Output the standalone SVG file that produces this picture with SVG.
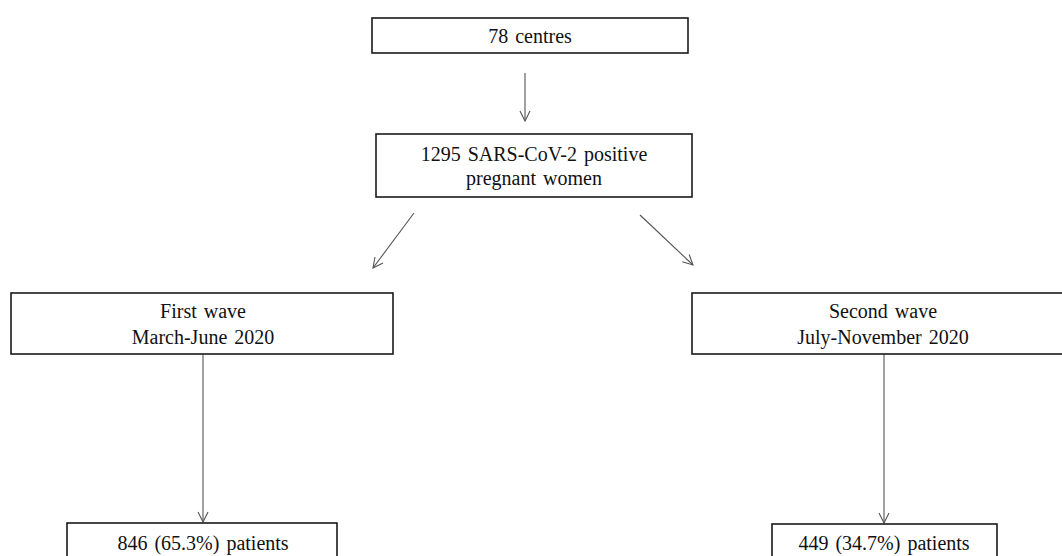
<svg xmlns="http://www.w3.org/2000/svg" width="1062" height="556" viewBox="0 0 1062 556">
<style>
.box{fill:#fff;stroke:#1a1a1a;stroke-width:1.6}
.t{font-family:"Liberation Serif","Times New Roman",serif;font-size:20px;fill:#111;text-anchor:middle;word-spacing:2px}
.c{stroke:#555;stroke-width:1.1;fill:none}
</style>
<defs>
<marker id="ah" viewBox="0 0 12 12" refX="11" refY="6" markerWidth="12" markerHeight="12" markerUnits="userSpaceOnUse" orient="auto">
<path d="M1,1 L11,6 L1,11" fill="none" stroke="#555" stroke-width="1.1"/>
</marker>
</defs>
<rect width="1062" height="556" fill="#fff"/>
<g id="connectors">
<line class="c" x1="525" y1="73" x2="525" y2="121" marker-end="url(#ah)"/>
<line class="c" x1="414" y1="213" x2="373" y2="268" marker-end="url(#ah)"/>
<line class="c" x1="640" y1="215" x2="693" y2="265" marker-end="url(#ah)"/>
<line class="c" x1="203" y1="354" x2="203" y2="522" marker-end="url(#ah)"/>
<line class="c" x1="884" y1="354" x2="884" y2="523" marker-end="url(#ah)"/>
</g>
<g id="n-centres">
<rect class="box" x="372" y="18" width="316" height="35"/>
<text class="t" x="530" y="43">78 centres</text>
</g>
<g id="n-women">
<rect class="box" x="376" y="134" width="316" height="63"/>
<text class="t" x="534" y="161">1295 SARS-CoV-2 positive</text>
<text class="t" x="534" y="185">pregnant women</text>
</g>
<g id="n-first">
<rect class="box" x="11" y="293" width="382" height="61"/>
<text class="t" x="203" y="318">First wave</text>
<text class="t" x="203" y="344">March-June 2020</text>
</g>
<g id="n-second">
<rect class="box" x="692" y="293" width="372" height="61"/>
<text class="t" x="883" y="318">Second wave</text>
<text class="t" x="883" y="344">July-November 2020</text>
</g>
<g id="n-p1">
<rect class="box" x="67" y="523" width="270" height="40"/>
<text class="t" x="203" y="550">846 (65.3%) patients</text>
</g>
<g id="n-p2">
<rect class="box" x="772" y="524" width="225" height="40"/>
<text class="t" x="884" y="550">449 (34.7%) patients</text>
</g>
</svg>
